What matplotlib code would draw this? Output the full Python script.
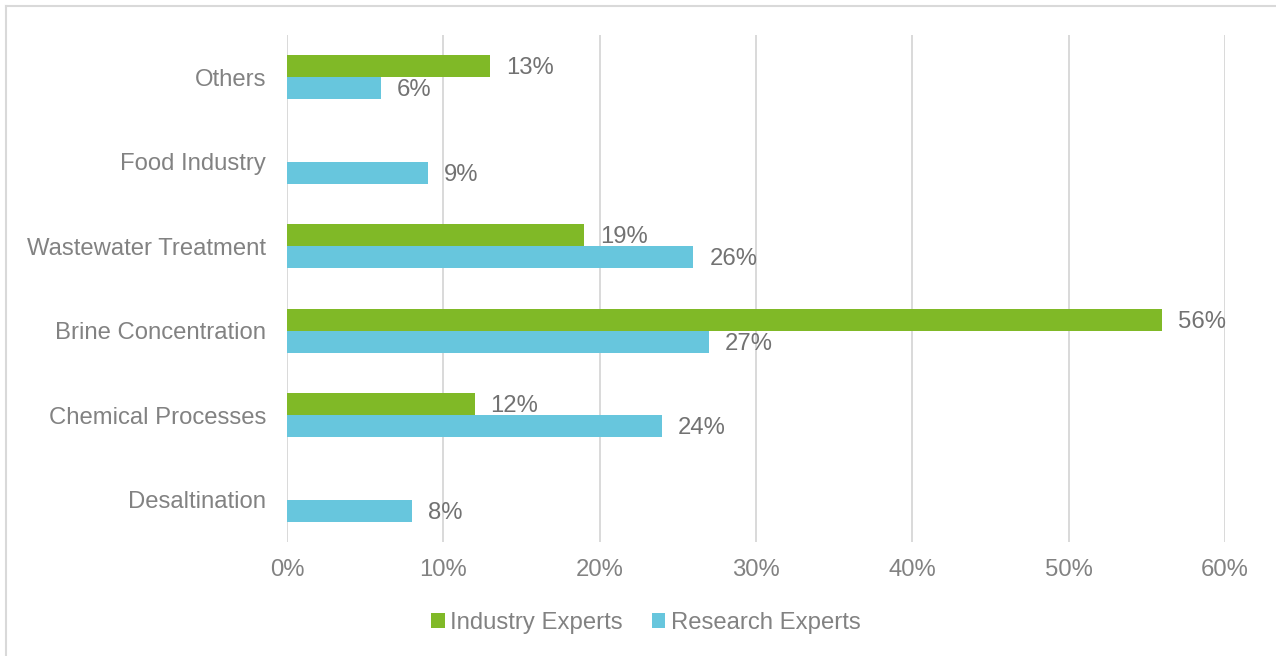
import matplotlib
matplotlib.use("Agg")
import matplotlib.pyplot as plt
import numpy as np
from matplotlib.lines import Line2D
from matplotlib.patches import Patch

categories = ["Desaltination", "Chemical Processes", "Brine Concentration",
              "Wastewater Treatment", "Food Industry", "Others"]
industry = [0, 12, 56, 19, 0, 13]
research = [8, 24, 27, 26, 9, 6]
xticks = [0, 10, 20, 30, 40, 50, 60]
series_names = ["Industry Experts", "Research Experts"]

GREEN = "#80B927"
BLUE = "#67C6DD"
GRID = "#D9D9D9"
AXIS_TXT = "#828282"
LABEL_TXT = "#727272"
FS = 17.2

plt.rcParams["font.family"] = ["Liberation Sans", "DejaVu Sans"]

W, H = 1276, 656
fig = plt.figure(figsize=(W / 100, H / 100), dpi=100)

# axes placed in pixel coordinates
left, right, top, bottom = 287, 1225, 35, 542
ax = fig.add_axes([left / W, (H - bottom) / H, (right - left) / W, (bottom - top) / H])

y = np.arange(len(categories))
bh = 0.26
ax.barh(y + bh / 2, industry, height=bh, color=GREEN, linewidth=0, zorder=3)
ax.barh(y - bh / 2, research, height=bh, color=BLUE, linewidth=0, zorder=3)

for yi, v in zip(y + bh / 2, industry):
    if v:
        ax.annotate(f"{v}%", (v, yi), xytext=(11.5, -1.5), textcoords="offset points",
                    va="center", ha="left", fontsize=FS, color=LABEL_TXT)
for yi, v in zip(y - bh / 2, research):
    if v:
        ax.annotate(f"{v}%", (v, yi), xytext=(11.5, -1.5), textcoords="offset points",
                    va="center", ha="left", fontsize=FS, color=LABEL_TXT)

ax.set_xlim(0, 60)
ax.set_ylim(-0.5, len(categories) - 0.5)
ax.set_xticks(xticks)
ax.set_xticklabels([f"{t}%" for t in xticks])
ax.set_yticks(y)
ax.set_yticklabels(categories)
ax.tick_params(axis="both", length=0, labelsize=FS, labelcolor=AXIS_TXT)
ax.tick_params(axis="y", pad=15)
ax.tick_params(axis="x", pad=12)
for s in ax.spines.values():
    s.set_visible(False)
ax.xaxis.grid(True, color=GRID, linewidth=1.4, zorder=0)
ax.set_axisbelow(True)

handles = [Patch(facecolor=GREEN, edgecolor="none"), Patch(facecolor=BLUE, edgecolor="none")]
leg = fig.legend(handles, series_names, loc="center", bbox_to_anchor=(646 / W, 1 - 623 / H),
                 ncol=2, frameon=False, fontsize=FS, handlelength=0.55, handleheight=0.55,
                 handletextpad=0.25, columnspacing=1.2, labelcolor=AXIS_TXT)

# chart frame (top and left edges)
fig.add_artist(Line2D([6 / W, 6 / W], [0, 1 - 6 / H], transform=fig.transFigure,
                      color="#D9D9D9", linewidth=1.5))
fig.add_artist(Line2D([6 / W, 1], [1 - 6 / H, 1 - 6 / H], transform=fig.transFigure,
                      color="#D9D9D9", linewidth=1.5))

fig.savefig("out.png", dpi=100, facecolor="white")
